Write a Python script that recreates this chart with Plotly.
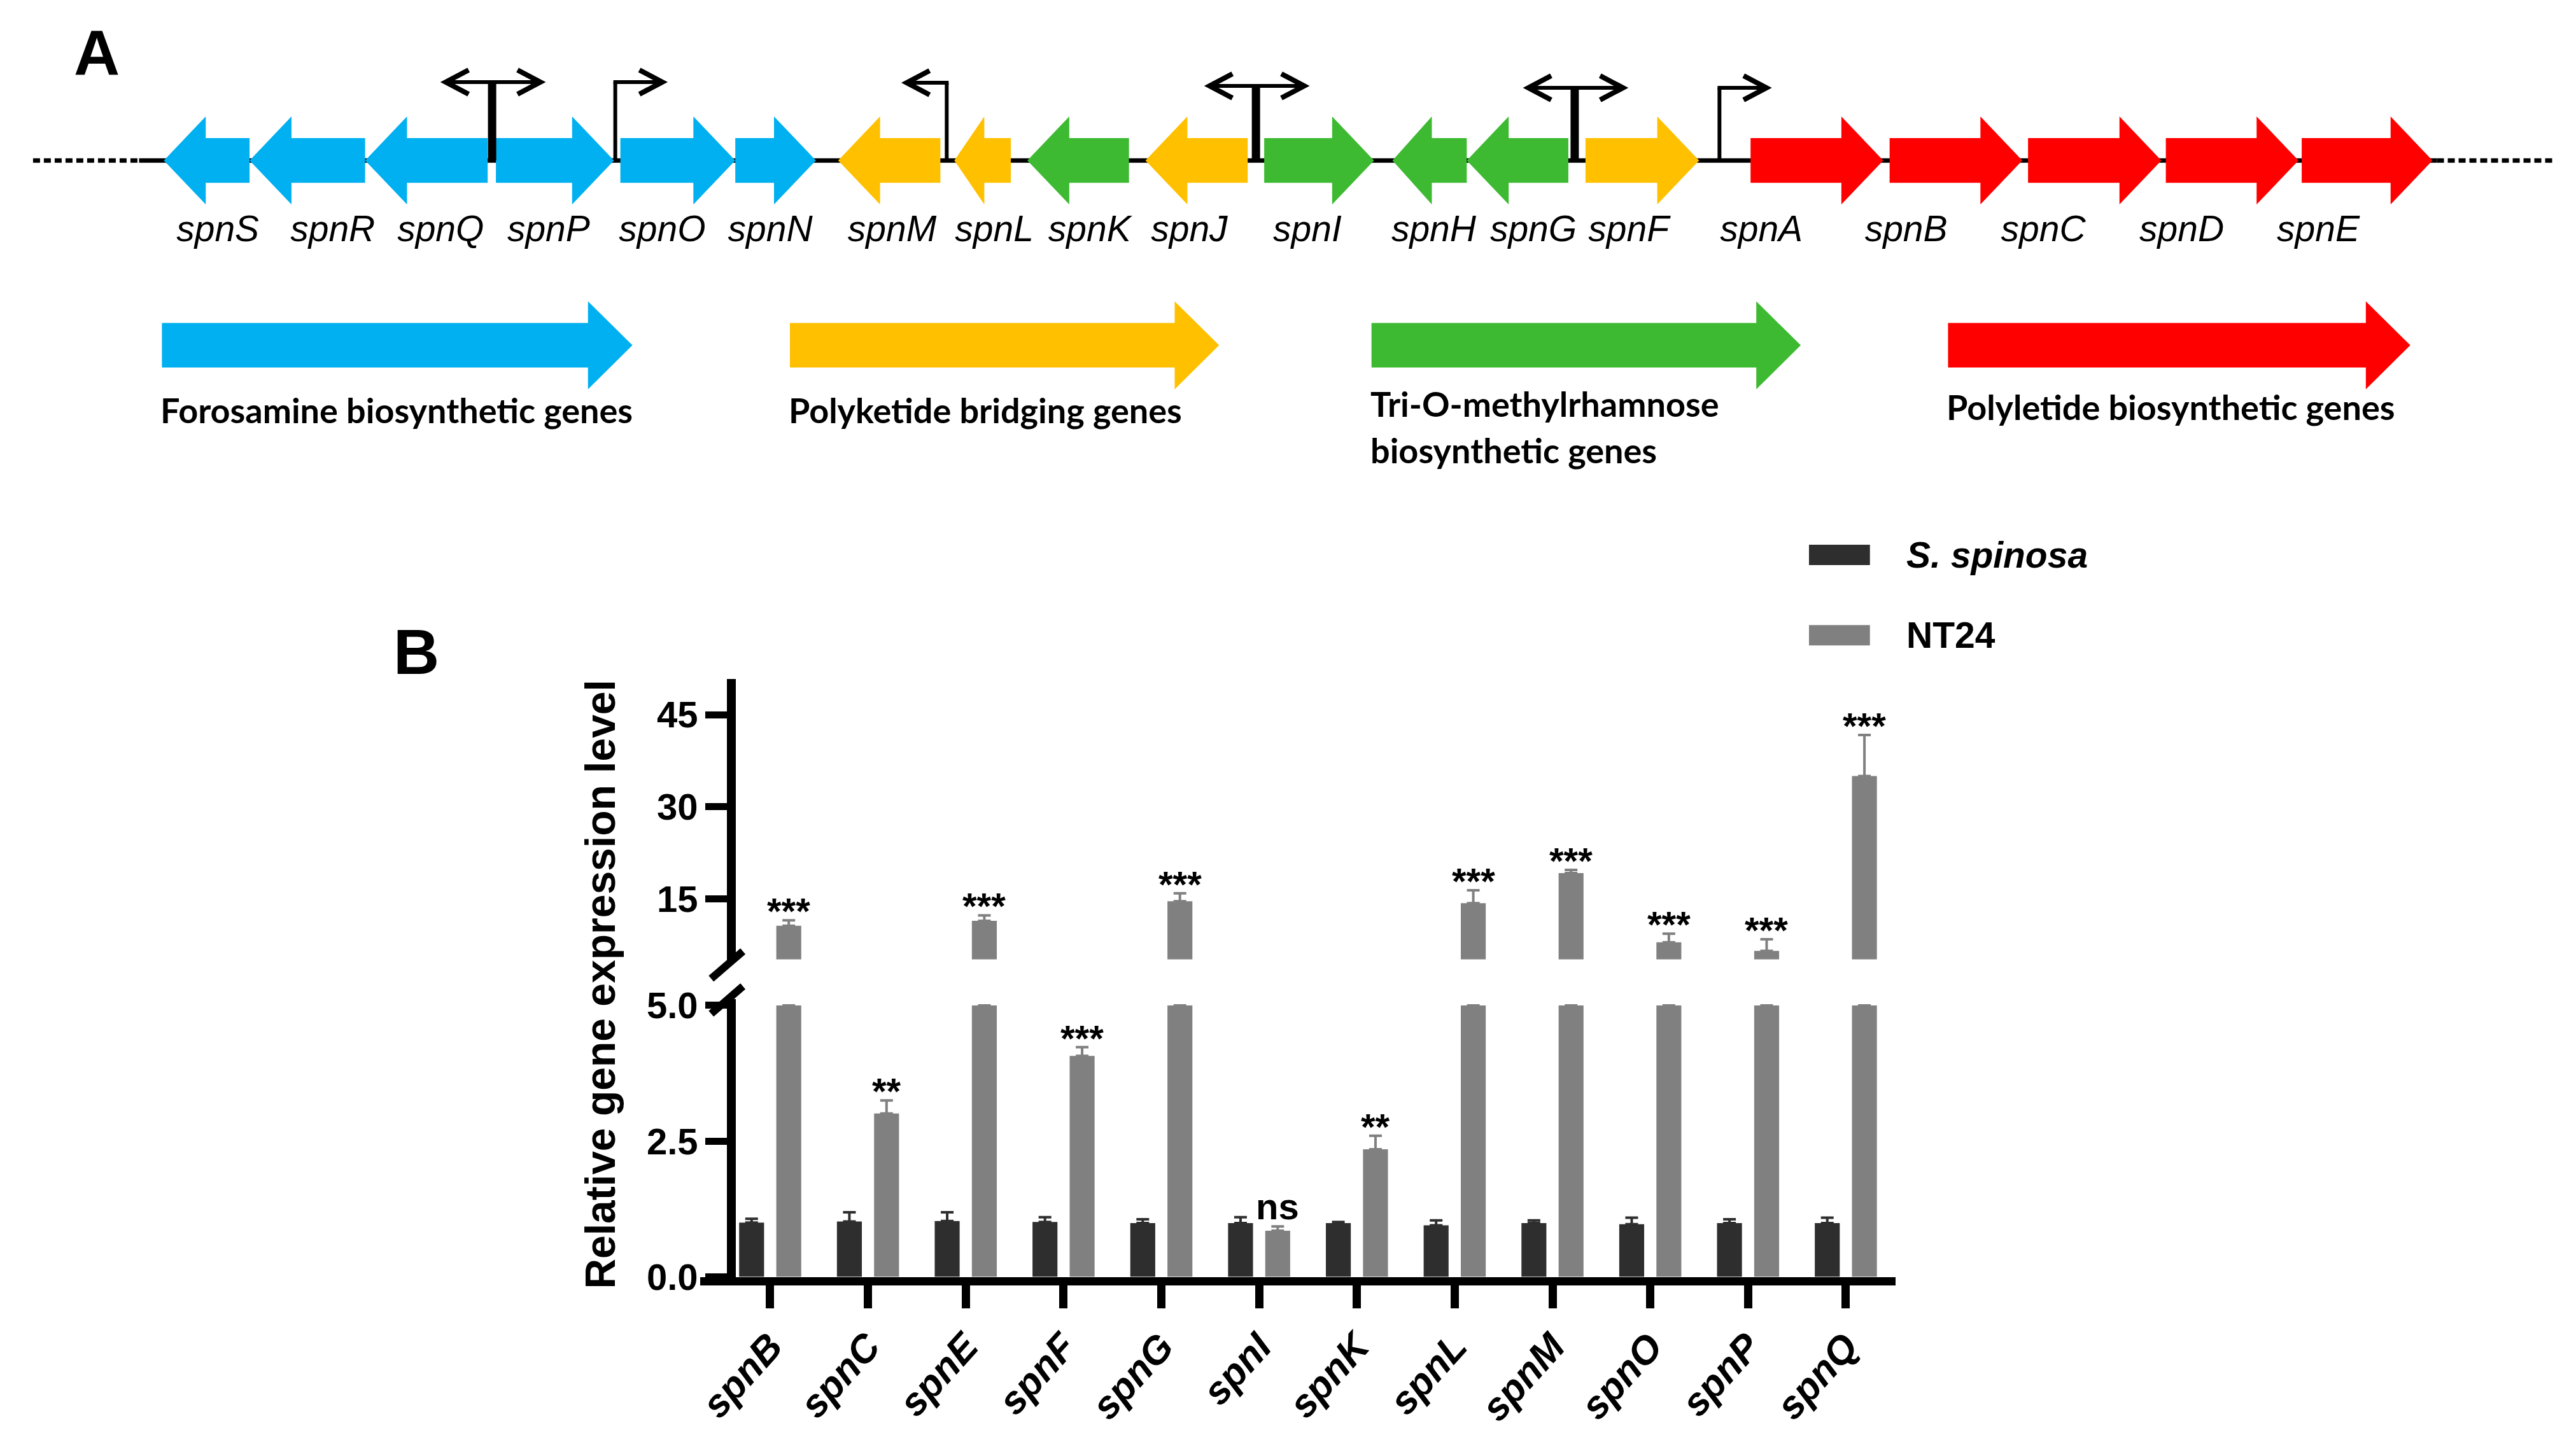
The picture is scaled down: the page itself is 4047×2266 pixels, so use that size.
import plotly.graph_objects as go

W, H = 4047, 2266

# ---------------- Panel A : spinosyn gene cluster ----------------
gene_names = ["spnS", "spnR", "spnQ", "spnP", "spnO", "spnN", "spnM", "spnL", "spnK", "spnJ",
              "spnI", "spnH", "spnG", "spnF", "spnA", "spnB", "spnC", "spnD", "spnE"]
gene_start = [248, 383, 565, 771, 967, 1148, 1310, 1493, 1608, 1794,
              1981, 2183, 2300, 2487, 2747, 2966, 3184, 3401, 3615]
gene_end = [383, 565, 758, 957, 1148, 1275, 1471, 1582, 1768, 1955,
            2154, 2300, 2460, 2666, 2956, 3175, 3394, 3610, 3821]
gene_strand = ["-", "-", "-", "+", "+", "+", "-", "-", "-", "-",
               "+", "-", "-", "+", "+", "+", "+", "+", "+"]
gene_group = ["forosamine"] * 6 + ["bridging", "bridging", "rhamnose", "bridging",
                                   "rhamnose", "rhamnose", "rhamnose", "bridging"] + ["polyketide"] * 5
gene_label_x = [333, 514, 684, 854, 1033, 1203, 1395, 1556, 1706, 1863,
                2049, 2248, 2405, 2555, 2764, 2992, 3208, 3426, 3641]

group_keys = ["forosamine", "bridging", "rhamnose", "polyketide"]
group_labels = [["Forosamine biosynthetic genes"], ["Polyketide bridging genes"],
                ["Tri-O-methylrhamnose", "biosynthetic genes"], ["Polyletide biosynthetic genes"]]
group_start = [245, 1234, 2150, 3058]
group_end = [986, 1910, 2826, 3786]
group_label_y = [643, 643, 633, 638]

promoter_x = [765, 959, 1481, 1968, 2470, 2698]
promoter_dir = ["both", "right", "left", "both", "both", "right"]
promoter_top = [128, 128, 129, 134, 137, 137]

group_colors = {"forosamine": "#00B0F0", "bridging": "#FFC000",
                "rhamnose": "#3DBA31", "polyketide": "#FF0000"}

# ---------------- Panel B : qRT-PCR ----------------
categories = ["spnB", "spnC", "spnE", "spnF", "spnG", "spnI", "spnK", "spnL", "spnM", "spnO", "spnP", "spnQ"]
wt_mean = [1.00, 1.02, 1.03, 1.01, 0.99, 0.99, 0.99, 0.95, 0.99, 0.97, 0.99, 0.99]
wt_err = [0.07, 0.17, 0.16, 0.09, 0.07, 0.11, 0.02, 0.09, 0.05, 0.12, 0.07, 0.10]
nt_mean = [10.6, 3.01, 11.4, 4.07, 14.6, 0.85, 2.35, 14.3, 19.2, 7.9, 6.5, 35.0]
nt_err = [0.9, 0.24, 0.9, 0.16, 1.3, 0.08, 0.25, 2.1, 0.5, 1.4, 1.9, 6.7]
significance = ["***", "**", "***", "***", "***", "ns", "**", "***", "***", "***", "***", "***"]
series_names = ["S. spinosa", "NT24"]
low_ticks = [0, 2.5, 5.0]
high_ticks = [15, 30, 45]
BREAK_LOW = 5.0
BREAK_HIGH = 5.1
HIGH_MAX = 50.8

DARK = "#2E2E2E"
GRAY = "#808080"
FONT = "Liberation Sans"

# vertical placement calibration (reference pixel -> page pixel)
VS, VO = 1.0258, -21.7


def px(x):
    return x / W


def py(y):
    return 1 - (VS * y + VO) / H


fig = go.Figure()


def arrow_path(x0, x1, strand, yc, bh, hh, head):
    if strand == "+":
        b = x1 - head
        pts = [(x0, yc - bh), (b, yc - bh), (b, yc - hh), (x1, yc), (b, yc + hh), (b, yc + bh), (x0, yc + bh)]
    else:
        b = x0 + head
        pts = [(x1, yc - bh), (b, yc - bh), (b, yc - hh), (x0, yc), (b, yc + hh), (b, yc + bh), (x1, yc + bh)]
    return "M " + " L ".join(f"{x:.1f},{y:.1f}" for x, y in pts) + " Z"


shapes = []
YC = 251
shapes.append(dict(type="line", xref="x3", yref="y3", x0=209, x1=3828, y0=YC, y1=YC,
                   line=dict(color="black", width=7)))
shapes.append(dict(type="line", xref="x3", yref="y3", x0=42, x1=209, y0=YC, y1=YC,
                   line=dict(color="black", width=7, dash="11px,6px")))
shapes.append(dict(type="line", xref="x3", yref="y3", x0=3828, x1=4010, y0=YC, y1=YC,
                   line=dict(color="black", width=7, dash="11px,6px")))
for s, e, st, g in zip(gene_start, gene_end, gene_strand, gene_group):
    head = min(66, 0.53 * (e - s))
    shapes.append(dict(type="path", xref="x3", yref="y3",
                       path=arrow_path(s, e, st, YC, 35, 69, head),
                       fillcolor=group_colors[g], line=dict(width=0)))


def chevron(xtip, y, direction):
    d = -1 if direction == "right" else 1
    return f"M {xtip + d*36},{y - 19} L {xtip},{y} L {xtip + d*36},{y + 19}"


for pxx, pdir, ptop in zip(promoter_x, promoter_dir, promoter_top):
    vw = 13 if pdir == "both" else 6
    shapes.append(dict(type="line", xref="x3", yref="y3", x0=pxx, x1=pxx, y0=YC, y1=ptop,
                       line=dict(color="black", width=vw)))
    ends = []
    if pdir in ("both", "left"):
        ends.append(("left", pxx - (73 if pdir == "both" else 63)))
    if pdir in ("both", "right"):
        ends.append(("right", pxx + (76 if pdir == "both" else 74)))
    for d, xe in ends:
        x_from = pxx - vw / 2 if d == "right" else pxx + vw / 2
        shapes.append(dict(type="line", xref="x3", yref="y3", x0=x_from, x1=xe, y0=ptop, y1=ptop,
                           line=dict(color="black", width=6)))
        shapes.append(dict(type="path", xref="x3", yref="y3", path=chevron(xe, ptop, d),
                           line=dict(color="black", width=8)))

for k, s, e in zip(group_keys, group_start, group_end):
    shapes.append(dict(type="path", xref="x3", yref="y3",
                       path=arrow_path(s, e, "+", 541, 35, 69, 70),
                       fillcolor=group_colors[k], line=dict(width=0)))

fig.add_trace(go.Scatter(x=gene_label_x, y=[363] * len(gene_names), text=gene_names,
                         mode="text", xaxis="x3", yaxis="y3", hoverinfo="skip", showlegend=False,
                         textfont=dict(family=FONT, size=57, style="italic", color="black")))

annotations = []
for lines, s, y0 in zip(group_labels, group_start, group_label_y):
    for j, line in enumerate(lines):
        annotations.append(dict(xref="x3", yref="y3", x=s - 4, y=y0 + j * 73, text=line,
                                showarrow=False, xanchor="left", yanchor="middle",
                                font=dict(family="Lato", size=54, weight="bold", color="black")))

annotations.append(dict(xref="paper", yref="paper", x=px(142), y=py(82), text="A", showarrow=False,
                        xanchor="center", yanchor="middle",
                        font=dict(family=FONT, size=100, weight="bold", color="black")))
annotations.append(dict(xref="paper", yref="paper", x=px(646), y=py(1022), text="B", showarrow=False,
                        xanchor="center", yanchor="middle",
                        font=dict(family=FONT, size=100, weight="bold", color="black")))

# ---- Panel B bars
n = len(categories)
xs = list(range(n))
BW = 0.255
OFF_WT = -0.3175
OFF_NT = 0.0625


def err_dict(arr, color):
    return dict(type="data", array=arr, arrayminus=[0] * len(arr), symmetric=False,
                color=color, thickness=4, width=10)


fig.add_trace(go.Bar(x=xs, y=wt_mean, width=BW, offset=OFF_WT, marker=dict(color=DARK, line=dict(width=0)),
                     error_y=err_dict(wt_err, DARK), name=series_names[0], xaxis="x", yaxis="y",
                     showlegend=False))
nt_low = [min(v, BREAK_LOW) for v in nt_mean]
nt_low_err = [e if v <= BREAK_LOW else None for v, e in zip(nt_mean, nt_err)]
fig.add_trace(go.Bar(x=xs, y=nt_low, width=BW, offset=OFF_NT, marker=dict(color=GRAY, line=dict(width=0)),
                     error_y=err_dict(nt_low_err, GRAY), name=series_names[1], xaxis="x", yaxis="y",
                     showlegend=False))
nt_high_len = [v - BREAK_HIGH if v > BREAK_HIGH else None for v in nt_mean]
nt_high_err = [e if v > BREAK_HIGH else None for v, e in zip(nt_mean, nt_err)]
fig.add_trace(go.Bar(x=xs, y=nt_high_len, base=BREAK_HIGH, width=BW, offset=OFF_NT,
                     marker=dict(color=GRAY, line=dict(width=0)),
                     error_y=err_dict(nt_high_err, GRAY), name=series_names[1], xaxis="x2", yaxis="y2",
                     showlegend=False))

for i, (v, e, sig) in enumerate(zip(nt_mean, nt_err, significance)):
    upper = v > BREAK_HIGH
    annotations.append(dict(xref="x2" if upper else "x", yref="y2" if upper else "y",
                            x=i + OFF_NT + BW / 2, y=v + e, text=sig, showarrow=False,
                            xanchor="center", yanchor="bottom",
                            yshift=-20 if sig != "ns" else -3,
                            font=dict(family=FONT, size=58, weight="bold", color="black")))

annotations.append(dict(xref="paper", yref="paper", x=px(935), y=py(1544),
                        text="Relative gene expression level", textangle=-90, showarrow=False,
                        xanchor="center", yanchor="middle",
                        font=dict(family=FONT, size=66, weight="bold", color="black")))

legend_colors = [DARK, GRAY]
legend_y = [870, 996]
legend_style = ["italic", "normal"]
for name, col, ly, stl in zip(series_names, legend_colors, legend_y, legend_style):
    shapes.append(dict(type="rect", xref="paper", yref="paper", x0=px(2839), x1=px(2935),
                       y0=py(ly - 16), y1=py(ly + 16), fillcolor=col, line=dict(width=0)))
    annotations.append(dict(xref="paper", yref="paper", x=px(2990), y=py(ly), text=name,
                            showarrow=False, xanchor="left", yanchor="middle",
                            font=dict(family=FONT, size=57, weight="bold", style=stl, color="black")))

for (x0, y0, x1, y1) in [(1110, 1535, 1160, 1492), (1110, 1590, 1160, 1547)]:
    shapes.append(dict(type="line", xref="paper", yref="paper", x0=px(x0), x1=px(x1),
                       y0=py(y0), y1=py(y1), line=dict(color="black", width=12)))

x_dom = [px(1093), px(2975)]
x_range = [-0.714, 11.506]
tickfont = dict(family=FONT, size=58, weight="bold", color="black")

common_y = dict(anchor="free", position=px(1142), showline=True, linewidth=14, linecolor="black",
                ticks="outside", ticklen=34, tickwidth=11, tickcolor="black", showgrid=False,
                zeroline=False, tickfont=tickfont, fixedrange=True)

# y3 range chosen so panel-A reference pixels land with the same calibration
y3_top = -VO / VS
y3_bottom = (H - VO) / VS

fig.update_layout(
    width=W, height=H, margin=dict(l=0, r=0, t=0, b=0),
    paper_bgcolor="white", plot_bgcolor="rgba(0,0,0,0)",
    barmode="overlay", showlegend=False,
    xaxis=dict(domain=x_dom, range=x_range, anchor="y", tickmode="array", tickvals=xs,
               ticktext=categories, tickangle=-48, ticks="outside", ticklen=36, tickwidth=13,
               tickcolor="black", showline=True, linewidth=13, linecolor="black", showgrid=False,
               zeroline=False,
               tickfont=dict(family=FONT, size=61, weight="bold", style="italic", color="black")),
    yaxis=dict(domain=[py(2003), py(1567)], range=[0, 5.117], tickmode="array",
               tickvals=low_ticks, ticktext=[f"{t:.1f}" for t in low_ticks], **common_y),
    xaxis2=dict(domain=x_dom, range=x_range, anchor="y2", visible=False),
    yaxis2=dict(domain=[py(1505), py(1065)], range=[BREAK_HIGH, HIGH_MAX], tickmode="array",
                tickvals=high_ticks, ticktext=[str(t) for t in high_ticks], **common_y),
    xaxis3=dict(domain=[0, 1], range=[0, W], anchor="y3", visible=False, fixedrange=True),
    yaxis3=dict(domain=[0, 1], range=[y3_bottom, y3_top], anchor="x3", visible=False, fixedrange=True),
    shapes=shapes, annotations=annotations,
)

fig.write_html("out.html", config={"displayModeBar": False},
               post_script="document.body.style.margin='0px';document.body.style.overflow='hidden';")
